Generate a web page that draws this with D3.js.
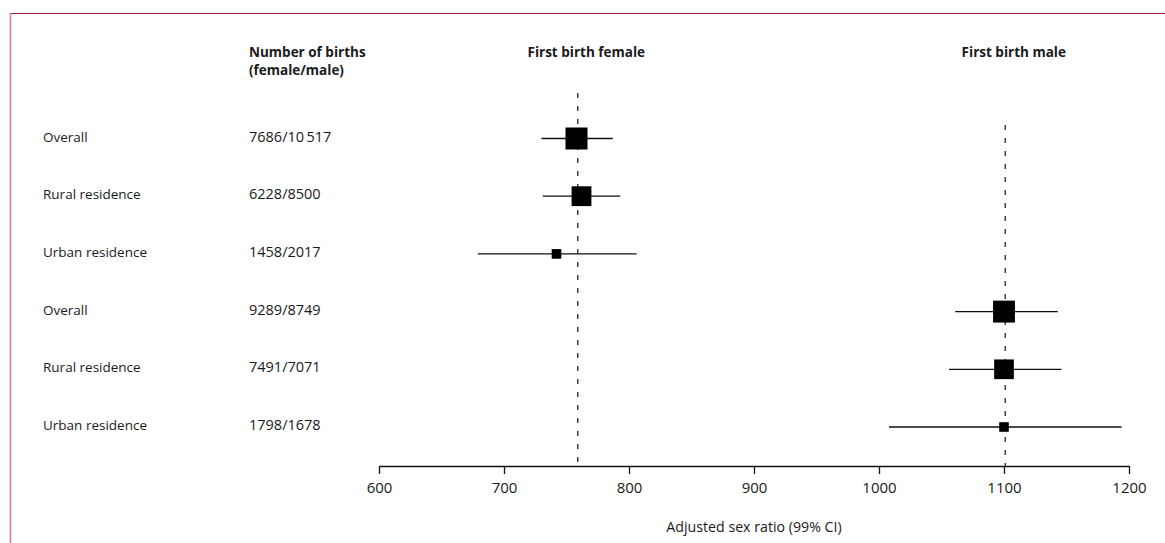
<!DOCTYPE html>
<html>
<head>
<meta charset="utf-8">
<script src="https://cdn.jsdelivr.net/npm/d3@7/dist/d3.min.js"></script>
<style>
  html, body { margin: 0; padding: 0; background: #fff; }
  svg { display: block; font-family: "Open Sans", "Noto Sans", sans-serif; }
</style>
</head>
<body>
<svg id="chart" width="1165" height="543"></svg>
<script>
// ---- data ----
const groups = ["First birth female", "First birth male"];
const labels = ["Overall", "Rural residence", "Urban residence", "Overall", "Rural residence", "Urban residence"];
const birthLabels = ["7686/10\u2009517", "6228/8500", "1458/2017", "9289/8749", "7491/7071", "1798/1678"];
const femaleBirths = [7686, 6228, 1458, 9289, 7491, 1798];
const maleBirths = [10517, 8500, 2017, 8749, 7071, 1678];
const estimate = [758, 762, 742, 1100, 1100, 1100];
const lower = [730, 731, 679, 1061, 1056, 1008];
const upper = [787, 793, 806, 1143, 1146, 1194];
const referenceValues = [759, 1101];
const tickValues = [600, 700, 800, 900, 1000, 1100, 1200];
const axisTitle = "Adjusted sex ratio (99% CI)";
const headerBirths = ["Number of births", "(female/male)"];

// ---- layout ----
const FONT = "\"Open Sans\", \"Noto Sans\", sans-serif";
const svg = d3.select("#chart");
const x = d3.scaleLinear().domain([600, 1200]).range([379, 1129]);
const y = d3.scalePoint().domain(d3.range(labels.length)).range([138.5, 427]);
const axisY = 466;
const totals = femaleBirths.map((f, i) => f + maleBirths[i]);
const size = d3.scaleSqrt().domain([0, d3.max(totals)]).range([0, 22]);

// frame
svg.append("line").attr("x1", 10).attr("x2", 1165).attr("y1", 13.5).attr("y2", 13.5)
  .attr("stroke", "#a3174a").attr("stroke-width", 1.2);
svg.append("line").attr("x1", 10.5).attr("x2", 10.5).attr("y1", 13).attr("y2", 543)
  .attr("stroke", "#e07ba3").attr("stroke-width", 1.6);

// headers
const hdr = svg.append("g").attr("font-weight", "bold").attr("font-size", 13.5).attr("fill", "#1a1a1a");
hdr.selectAll("text.hb").data(headerBirths).join("text")
  .attr("x", 249).attr("y", (d, i) => 57 + i * 18).text(d => d);
hdr.selectAll("text.hg").data(groups).join("text")
  .attr("x", (d, i) => x(referenceValues[i]) + 8.5).attr("y", 57)
  .attr("text-anchor", "middle").text(d => d);

// reference dashed lines
const refTop = [93, 125];
svg.selectAll("line.ref").data(referenceValues).join("line")
  .attr("x1", d => x(d)).attr("x2", d => x(d))
  .attr("y1", (d, i) => refTop[i]).attr("y2", axisY)
  .attr("stroke", "#333").attr("stroke-width", 1.4)
  .attr("stroke-dasharray", "5,8");

// row labels
const rows = svg.append("g").attr("font-size", 13.5).attr("fill", "#1a1a1a");
rows.selectAll("text.lab").data(labels).join("text")
  .attr("x", 43).attr("y", (d, i) => y(i) + 3).text(d => d);
rows.selectAll("text.num").data(birthLabels).join("text")
  .attr("x", 249).attr("y", (d, i) => y(i) + 3).attr("font-size", 14.5).text(d => d);

// CI lines
svg.selectAll("line.ci").data(estimate).join("line")
  .attr("x1", (d, i) => x(lower[i])).attr("x2", (d, i) => x(upper[i]))
  .attr("y1", (d, i) => y(i)).attr("y2", (d, i) => y(i))
  .attr("stroke", "#111").attr("stroke-width", 1.3);

// squares
svg.selectAll("rect.pt").data(estimate).join("rect")
  .attr("x", (d, i) => x(d) - size(totals[i]) / 2)
  .attr("y", (d, i) => y(i) - size(totals[i]) / 2)
  .attr("width", (d, i) => size(totals[i]))
  .attr("height", (d, i) => size(totals[i]))
  .attr("fill", "#000");

// axis
const axis = svg.append("g").attr("transform", `translate(0,${axisY})`)
  .call(d3.axisBottom(x).tickValues(tickValues).tickSize(8).tickSizeOuter(0).tickPadding(8).tickFormat(d3.format("d")));
axis.select(".domain").attr("stroke", "#111").attr("stroke-width", 1.3);
axis.selectAll(".tick line").attr("stroke", "#111").attr("stroke-width", 1.3);
axis.selectAll(".tick text").attr("font-size", 15).attr("fill", "#1a1a1a")
  .attr("font-family", FONT);

svg.append("text").attr("x", x(900)).attr("y", 532).attr("text-anchor", "middle")
  .attr("font-size", 14.2).attr("fill", "#1a1a1a").text(axisTitle);
</script>
</body>
</html>
